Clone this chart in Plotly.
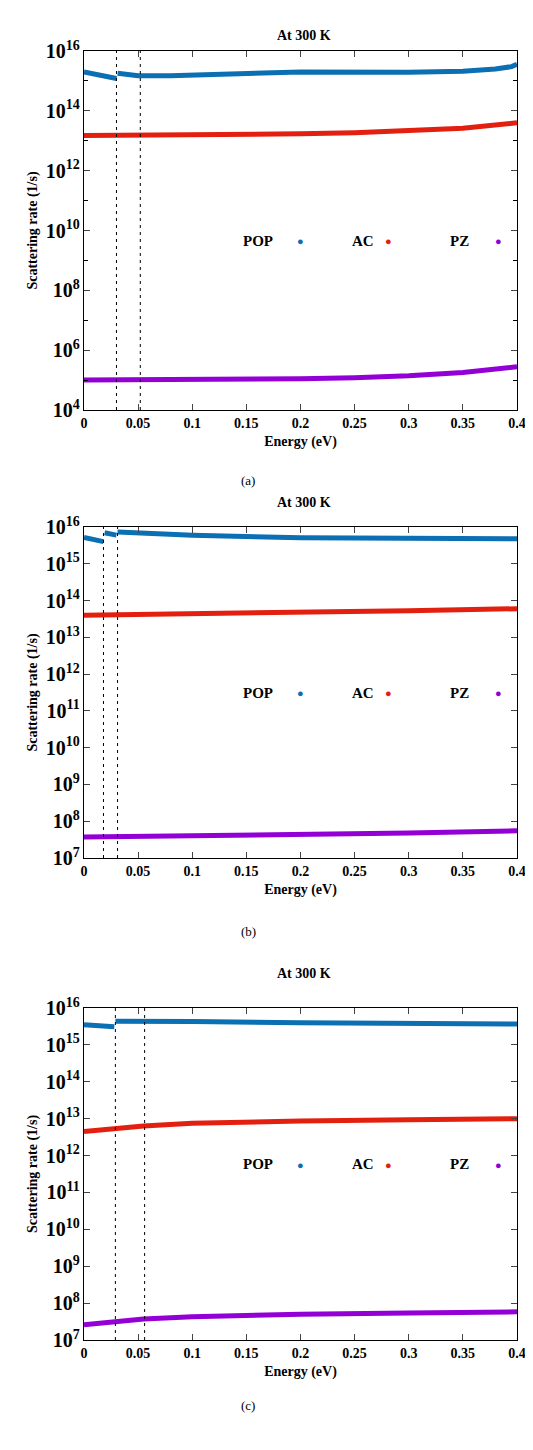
import plotly.graph_objects as go

# Panel (a)
a_pop_x = [0, 0.03, None, 0.031, 0.05, 0.08, 0.15, 0.2, 0.3, 0.35, 0.38, 0.395, 0.4]
a_pop_y = [2.0e15, 1.2e15, None, 1.8e15, 1.5e15, 1.5e15, 1.85e15, 2.0e15, 1.95e15, 2.1e15, 2.5e15, 3.0e15, 3.6e15]
a_ac_x = [0, 0.1, 0.2, 0.25, 0.3, 0.35, 0.4]
a_ac_y = [1.5e13, 1.55e13, 1.7e13, 1.85e13, 2.1e13, 2.6e13, 4.0e13]
a_pz_x = [0, 0.1, 0.2, 0.25, 0.3, 0.35, 0.4]
a_pz_y = [1.0e5, 1.02e5, 1.1e5, 1.2e5, 1.4e5, 1.8e5, 2.8e5]
a_vlines = [0.03, 0.052]

# Panel (b)
b_pop_x = [0, 0.018, None, 0.019, 0.03, None, 0.031, 0.05, 0.1, 0.2, 0.3, 0.4]
b_pop_y = [5.2e15, 4.0e15, None, 7.0e15, 6.0e15, None, 7.3e15, 6.8e15, 6.0e15, 5.1e15, 4.8e15, 4.8e15]
b_ac_x = [0, 0.1, 0.22, 0.3, 0.4]
b_ac_y = [4.0e13, 4.3e13, 4.8e13, 5.3e13, 6.0e13]
b_pz_x = [0, 0.1, 0.22, 0.3, 0.4]
b_pz_y = [3.7e7, 4.0e7, 4.4e7, 4.8e7, 5.5e7]
b_vlines = [0.018, 0.031]

# Panel (c)
c_pop_x = [0, 0.028, None, 0.029, 0.05, 0.1, 0.2, 0.3, 0.4]
c_pop_y = [3.5e15, 3.1e15, None, 4.4e15, 4.45e15, 4.3e15, 4.0e15, 3.8e15, 3.7e15]
c_ac_x = [0, 0.03, 0.055, 0.1, 0.15, 0.2, 0.3, 0.4]
c_ac_y = [4.5e12, 5.5e12, 6.3e12, 7.5e12, 8.2e12, 8.7e12, 9.4e12, 1.0e13]
c_pz_x = [0, 0.03, 0.055, 0.1, 0.15, 0.2, 0.3, 0.4]
c_pz_y = [2.6e7, 3.2e7, 3.7e7, 4.3e7, 4.7e7, 5.0e7, 5.4e7, 5.8e7]
c_vlines = [0.029, 0.056]

series_names = ["POP", "AC", "PZ"]
colors = ["#0b6fb3", "#e3200f", "#9300d6"]
x_ticks = [0, 0.05, 0.1, 0.15, 0.2, 0.25, 0.3, 0.35, 0.4]
x_ticktext = ["0", "0.05", "0.1", "0.15", "0.2", "0.25", "0.3", "0.35", "0.4"]

H = 1450.0
W = 533.0
panels = [
    dict(data=[(a_pop_x, a_pop_y), (a_ac_x, a_ac_y), (a_pz_x, a_pz_y)], vl=a_vlines,
         yr=(4, 16), ydt=2, top=43, bot=402, lab="(a)", laby=463),
    dict(data=[(b_pop_x, b_pop_y), (b_ac_x, b_ac_y), (b_pz_x, b_pz_y)], vl=b_vlines,
         yr=(7, 16), ydt=1, top=519, bot=850, lab="(b)", laby=923),
    dict(data=[(c_pop_x, c_pop_y), (c_ac_x, c_ac_y), (c_pz_x, c_pz_y)], vl=c_vlines,
         yr=(7, 16), ydt=1, top=1000, bot=1332, lab="(c)", laby=1407),
]

FONT = "Liberation Serif"
fig = go.Figure()
xdom = (76/W, 509/W)
annots = []
shapes = []
for i, p in enumerate(panels):
    n = "" if i == 0 else str(i + 1)
    xa, ya = "x" + n, "y" + n
    for (xs, ys), nm, c in zip(p["data"], series_names, colors):
        fig.add_trace(go.Scatter(x=xs, y=ys, mode="lines", name=nm, showlegend=False,
                                 line=dict(color=c, width=5), xaxis=xa, yaxis=ya))
    for v in p["vl"]:
        shapes.append(dict(type="line", xref=xa, yref=ya + " domain", x0=v, x1=v, y0=0, y1=1,
                           line=dict(color="black", width=1, dash="3px,4px")))
    axcommon = dict(showline=True, linecolor="black", linewidth=1, mirror="ticks", ticks="inside",
                    ticklen=6, showgrid=False, zeroline=False, automargin=False)
    fig.layout["xaxis" + n] = dict(axcommon, domain=xdom, range=[0, 0.4], tickvals=x_ticks,
                                   ticktext=x_ticktext, anchor=ya,
                                   tickfont=dict(family=FONT, size=14, color="black", weight="bold"),
                                   title=dict(text="<b>Energy (eV)</b>", font=dict(family=FONT, size=14, color="black"), standoff=6))
    fig.layout["yaxis" + n] = dict(axcommon, domain=(1 - p["bot"]/H, 1 - p["top"]/H), type="log", range=list(p["yr"]),
                                   dtick=p["ydt"], exponentformat="power", anchor=xa,
                                   tickfont=dict(family=FONT, size=16, color="black", weight="bold"),
                                   minor=dict(dtick=1, ticks="inside", ticklen=4, tickcolor="black") if p["ydt"] == 2 else None,
                                   title=dict(text="<b>Scattering rate (1/s)</b>", font=dict(family=FONT, size=14, color="black"), standoff=4))
    annots.append(dict(text="<b>At 300 K</b>", xref="paper", yref="paper", x=0.5*(xdom[0]+xdom[1]) + 3/W,
                       y=1 - (p["top"] - 25)/H,
                       showarrow=False, font=dict(family=FONT, size=14, color="black")))
    annots.append(dict(text=p["lab"], xref="paper", yref="paper", x=240/W, y=1 - p["laby"]/H,
                       showarrow=False, font=dict(family=FONT, size=13, color="black")))
    ly = 1 - (p["top"] + p["bot"]) / 2 / H
    for nm, c, tx, mx in zip(series_names, colors, [250, 355, 463], [292, 386, 496]):
        annots.append(dict(text="<b>" + nm + "</b>", xref="paper", yref="paper", x=tx/W, y=ly,
                           showarrow=False, font=dict(family=FONT, size=15, color="black")))
        annots.append(dict(text="●", xref="paper", yref="paper", x=mx/W, y=ly,
                           showarrow=False, font=dict(size=11, color=c)))

fig.update_layout(width=533, height=1450, margin=dict(l=0, r=0, t=0, b=0, autoexpand=False),
                  plot_bgcolor="white", paper_bgcolor="white", annotations=annots, shapes=shapes)
fig.write_html("out.html")
